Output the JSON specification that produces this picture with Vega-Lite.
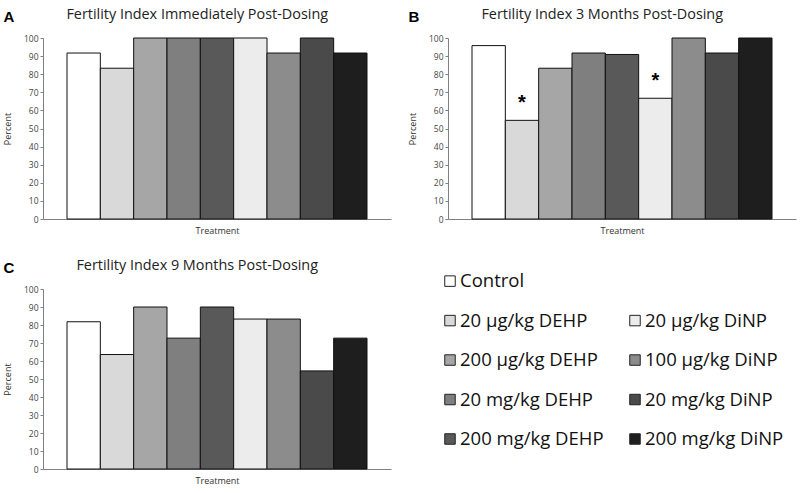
{
  "$schema": "https://vega.github.io/schema/vega-lite/v6.json",
  "background": "white",
  "padding": {"left": 3, "top": 6, "right": 5, "bottom": 5},
  "datasets": {
    "fert": [
      {"panel": "A", "treatment": "Control", "value": 91.7, "sig": ""},
      {"panel": "A", "treatment": "20 µg/kg DEHP", "value": 83.3, "sig": ""},
      {"panel": "A", "treatment": "200 µg/kg DEHP", "value": 100, "sig": ""},
      {"panel": "A", "treatment": "20 mg/kg DEHP", "value": 100, "sig": ""},
      {"panel": "A", "treatment": "200 mg/kg DEHP", "value": 100, "sig": ""},
      {"panel": "A", "treatment": "20 µg/kg DiNP", "value": 100, "sig": ""},
      {"panel": "A", "treatment": "100 µg/kg DiNP", "value": 91.7, "sig": ""},
      {"panel": "A", "treatment": "20 mg/kg DiNP", "value": 100, "sig": ""},
      {"panel": "A", "treatment": "200 mg/kg DiNP", "value": 91.7, "sig": ""},
      {"panel": "B", "treatment": "Control", "value": 95.8, "sig": ""},
      {"panel": "B", "treatment": "20 µg/kg DEHP", "value": 54.5, "sig": "*"},
      {"panel": "B", "treatment": "200 µg/kg DEHP", "value": 83.3, "sig": ""},
      {"panel": "B", "treatment": "20 mg/kg DEHP", "value": 91.7, "sig": ""},
      {"panel": "B", "treatment": "200 mg/kg DEHP", "value": 90.9, "sig": ""},
      {"panel": "B", "treatment": "20 µg/kg DiNP", "value": 66.7, "sig": "*"},
      {"panel": "B", "treatment": "100 µg/kg DiNP", "value": 100, "sig": ""},
      {"panel": "B", "treatment": "20 mg/kg DiNP", "value": 91.7, "sig": ""},
      {"panel": "B", "treatment": "200 mg/kg DiNP", "value": 100, "sig": ""},
      {"panel": "C", "treatment": "Control", "value": 81.8, "sig": ""},
      {"panel": "C", "treatment": "20 µg/kg DEHP", "value": 63.6, "sig": ""},
      {"panel": "C", "treatment": "200 µg/kg DEHP", "value": 90, "sig": ""},
      {"panel": "C", "treatment": "20 mg/kg DEHP", "value": 72.7, "sig": ""},
      {"panel": "C", "treatment": "200 mg/kg DEHP", "value": 90, "sig": ""},
      {"panel": "C", "treatment": "20 µg/kg DiNP", "value": 83.3, "sig": ""},
      {"panel": "C", "treatment": "100 µg/kg DiNP", "value": 83.3, "sig": ""},
      {"panel": "C", "treatment": "20 mg/kg DiNP", "value": 54.5, "sig": ""},
      {"panel": "C", "treatment": "200 mg/kg DiNP", "value": 72.7, "sig": ""}
    ],
    "legend": [
      {"treatment": "Control", "col": 1, "row": 1},
      {"treatment": "20 µg/kg DEHP", "col": 1, "row": 2},
      {"treatment": "200 µg/kg DEHP", "col": 1, "row": 3},
      {"treatment": "20 mg/kg DEHP", "col": 1, "row": 4},
      {"treatment": "200 mg/kg DEHP", "col": 1, "row": 5},
      {"treatment": "20 µg/kg DiNP", "col": 2, "row": 2},
      {"treatment": "100 µg/kg DiNP", "col": 2, "row": 3},
      {"treatment": "20 mg/kg DiNP", "col": 2, "row": 4},
      {"treatment": "200 mg/kg DiNP", "col": 2, "row": 5}
    ]
  },
  "config": {
    "view": {"stroke": null},
    "font": "Open Sans",
    "axis": {"labelFont": "Open Sans", "labelFontSize": 8.5, "labelColor": "#444", "titleFont": "Open Sans", "titleFontSize": 9, "titleFontWeight": "normal", "titleColor": "#333", "domainColor": "#808080", "tickColor": "#808080", "grid": false, "tickSize": 3},
    "axisX": {"labels": false, "ticks": false, "titlePadding": 7},
    "axisY": {"titlePadding": 11, "labelPadding": 2},
    "title": {"font": "Open Sans", "fontWeight": "normal", "color": "#222"}
  },
  "vconcat": [
    {
      "hconcat": [
        {
          "title": {"text": "A", "anchor": "start", "frame": "bounds", "fontSize": 15, "fontWeight": "bold", "font": "Liberation Sans", "color": "#000", "offset": -18},
          "vconcat": [
            {
              "title": {"text": "Fertility Index Immediately Post-Dosing", "anchor": "middle", "frame": "bounds", "fontSize": 14.4, "offset": 12},
              "width": 348, "height": 181,
              "data": {"name": "fert"},
              "transform": [{"filter": "datum.panel == 'A'"}],
              "encoding": {
                "x": {"field": "treatment", "type": "nominal", "title": "Treatment", "scale": {"domain": ["Control", "20 µg/kg DEHP", "200 µg/kg DEHP", "20 mg/kg DEHP", "200 mg/kg DEHP", "20 µg/kg DiNP", "100 µg/kg DiNP", "20 mg/kg DiNP", "200 mg/kg DiNP"], "paddingInner": 0, "paddingOuter": 0.72}},
                "y": {"field": "value", "type": "quantitative", "title": "Percent", "scale": {"domain": [0, 100]}, "axis": {"values": [0, 10, 20, 30, 40, 50, 60, 70, 80, 90, 100]}}
              },
              "layer": [
                {"mark": {"type": "bar", "stroke": "#111", "strokeWidth": 1},
                 "encoding": {"color": {"field": "treatment", "type": "nominal", "legend": null, "scale": {"domain": ["Control", "20 µg/kg DEHP", "200 µg/kg DEHP", "20 mg/kg DEHP", "200 mg/kg DEHP", "20 µg/kg DiNP", "100 µg/kg DiNP", "20 mg/kg DiNP", "200 mg/kg DiNP"], "range": ["#ffffff", "#d9d9d9", "#a6a6a6", "#7f7f7f", "#595959", "#ececec", "#8c8c8c", "#4a4a4a", "#1e1e1e"]}}}}
              ]
            }
          ]
        },
        {
          "title": {"text": "B", "anchor": "start", "frame": "bounds", "fontSize": 15, "fontWeight": "bold", "font": "Liberation Sans", "color": "#000", "offset": -18},
          "vconcat": [
            {
              "title": {"text": "Fertility Index 3 Months Post-Dosing", "anchor": "middle", "frame": "bounds", "fontSize": 14.4, "offset": 12},
              "width": 348, "height": 181,
              "data": {"name": "fert"},
              "transform": [{"filter": "datum.panel == 'B'"}],
              "encoding": {
                "x": {"field": "treatment", "type": "nominal", "title": "Treatment", "scale": {"domain": ["Control", "20 µg/kg DEHP", "200 µg/kg DEHP", "20 mg/kg DEHP", "200 mg/kg DEHP", "20 µg/kg DiNP", "100 µg/kg DiNP", "20 mg/kg DiNP", "200 mg/kg DiNP"], "paddingInner": 0, "paddingOuter": 0.72}},
                "y": {"field": "value", "type": "quantitative", "title": "Percent", "scale": {"domain": [0, 100]}, "axis": {"values": [0, 10, 20, 30, 40, 50, 60, 70, 80, 90, 100]}}
              },
              "layer": [
                {"mark": {"type": "bar", "stroke": "#111", "strokeWidth": 1},
                 "encoding": {"color": {"field": "treatment", "type": "nominal", "legend": null}}},
                {"transform": [{"filter": "datum.sig != ''"}],
                 "mark": {"type": "text", "dy": -11, "fontSize": 20, "fontWeight": "bold", "font": "Liberation Sans", "baseline": "alphabetic", "color": "#000"},
                 "encoding": {"text": {"field": "sig"}}}
              ]
            }
          ]
        }
      ],
      "spacing": 17
    },
    {
      "hconcat": [
        {
          "title": {"text": "C", "anchor": "start", "frame": "bounds", "fontSize": 15, "fontWeight": "bold", "font": "Liberation Sans", "color": "#000", "offset": -18},
          "vconcat": [
            {
              "title": {"text": "Fertility Index 9 Months Post-Dosing", "anchor": "middle", "frame": "bounds", "fontSize": 14.4, "offset": 12},
              "width": 348, "height": 180,
              "data": {"name": "fert"},
              "transform": [{"filter": "datum.panel == 'C'"}],
              "encoding": {
                "x": {"field": "treatment", "type": "nominal", "title": "Treatment", "scale": {"domain": ["Control", "20 µg/kg DEHP", "200 µg/kg DEHP", "20 mg/kg DEHP", "200 mg/kg DEHP", "20 µg/kg DiNP", "100 µg/kg DiNP", "20 mg/kg DiNP", "200 mg/kg DiNP"], "paddingInner": 0, "paddingOuter": 0.72}},
                "y": {"field": "value", "type": "quantitative", "title": "Percent", "scale": {"domain": [0, 100]}, "axis": {"values": [0, 10, 20, 30, 40, 50, 60, 70, 80, 90, 100]}}
              },
              "layer": [
                {"mark": {"type": "bar", "stroke": "#111", "strokeWidth": 1},
                 "encoding": {"color": {"field": "treatment", "type": "nominal", "legend": null}}}
              ]
            }
          ]
        },
        {
          "width": 185, "height": 180,
          "data": {"name": "legend"},
          "encoding": {
            "x": {"field": "col", "type": "ordinal", "axis": null, "scale": {"type": "point", "padding": 0}},
            "y": {"field": "row", "type": "quantitative", "axis": null, "scale": {"domain": [1.2, 5.76], "reverse": true, "zero": false, "nice": false}}
          },
          "layer": [
            {"mark": {"type": "square", "size": 110, "filled": true, "stroke": "#222", "strokeWidth": 1, "opacity": 1},
             "encoding": {"color": {"field": "treatment", "type": "nominal", "legend": null}}},
            {"mark": {"type": "text", "align": "left", "baseline": "middle", "dx": 10, "fontSize": 18.5, "font": "Open Sans", "color": "#111"},
             "encoding": {"text": {"field": "treatment"}}}
          ]
        }
      ],
      "spacing": 51
    }
  ],
  "spacing": 22
}
